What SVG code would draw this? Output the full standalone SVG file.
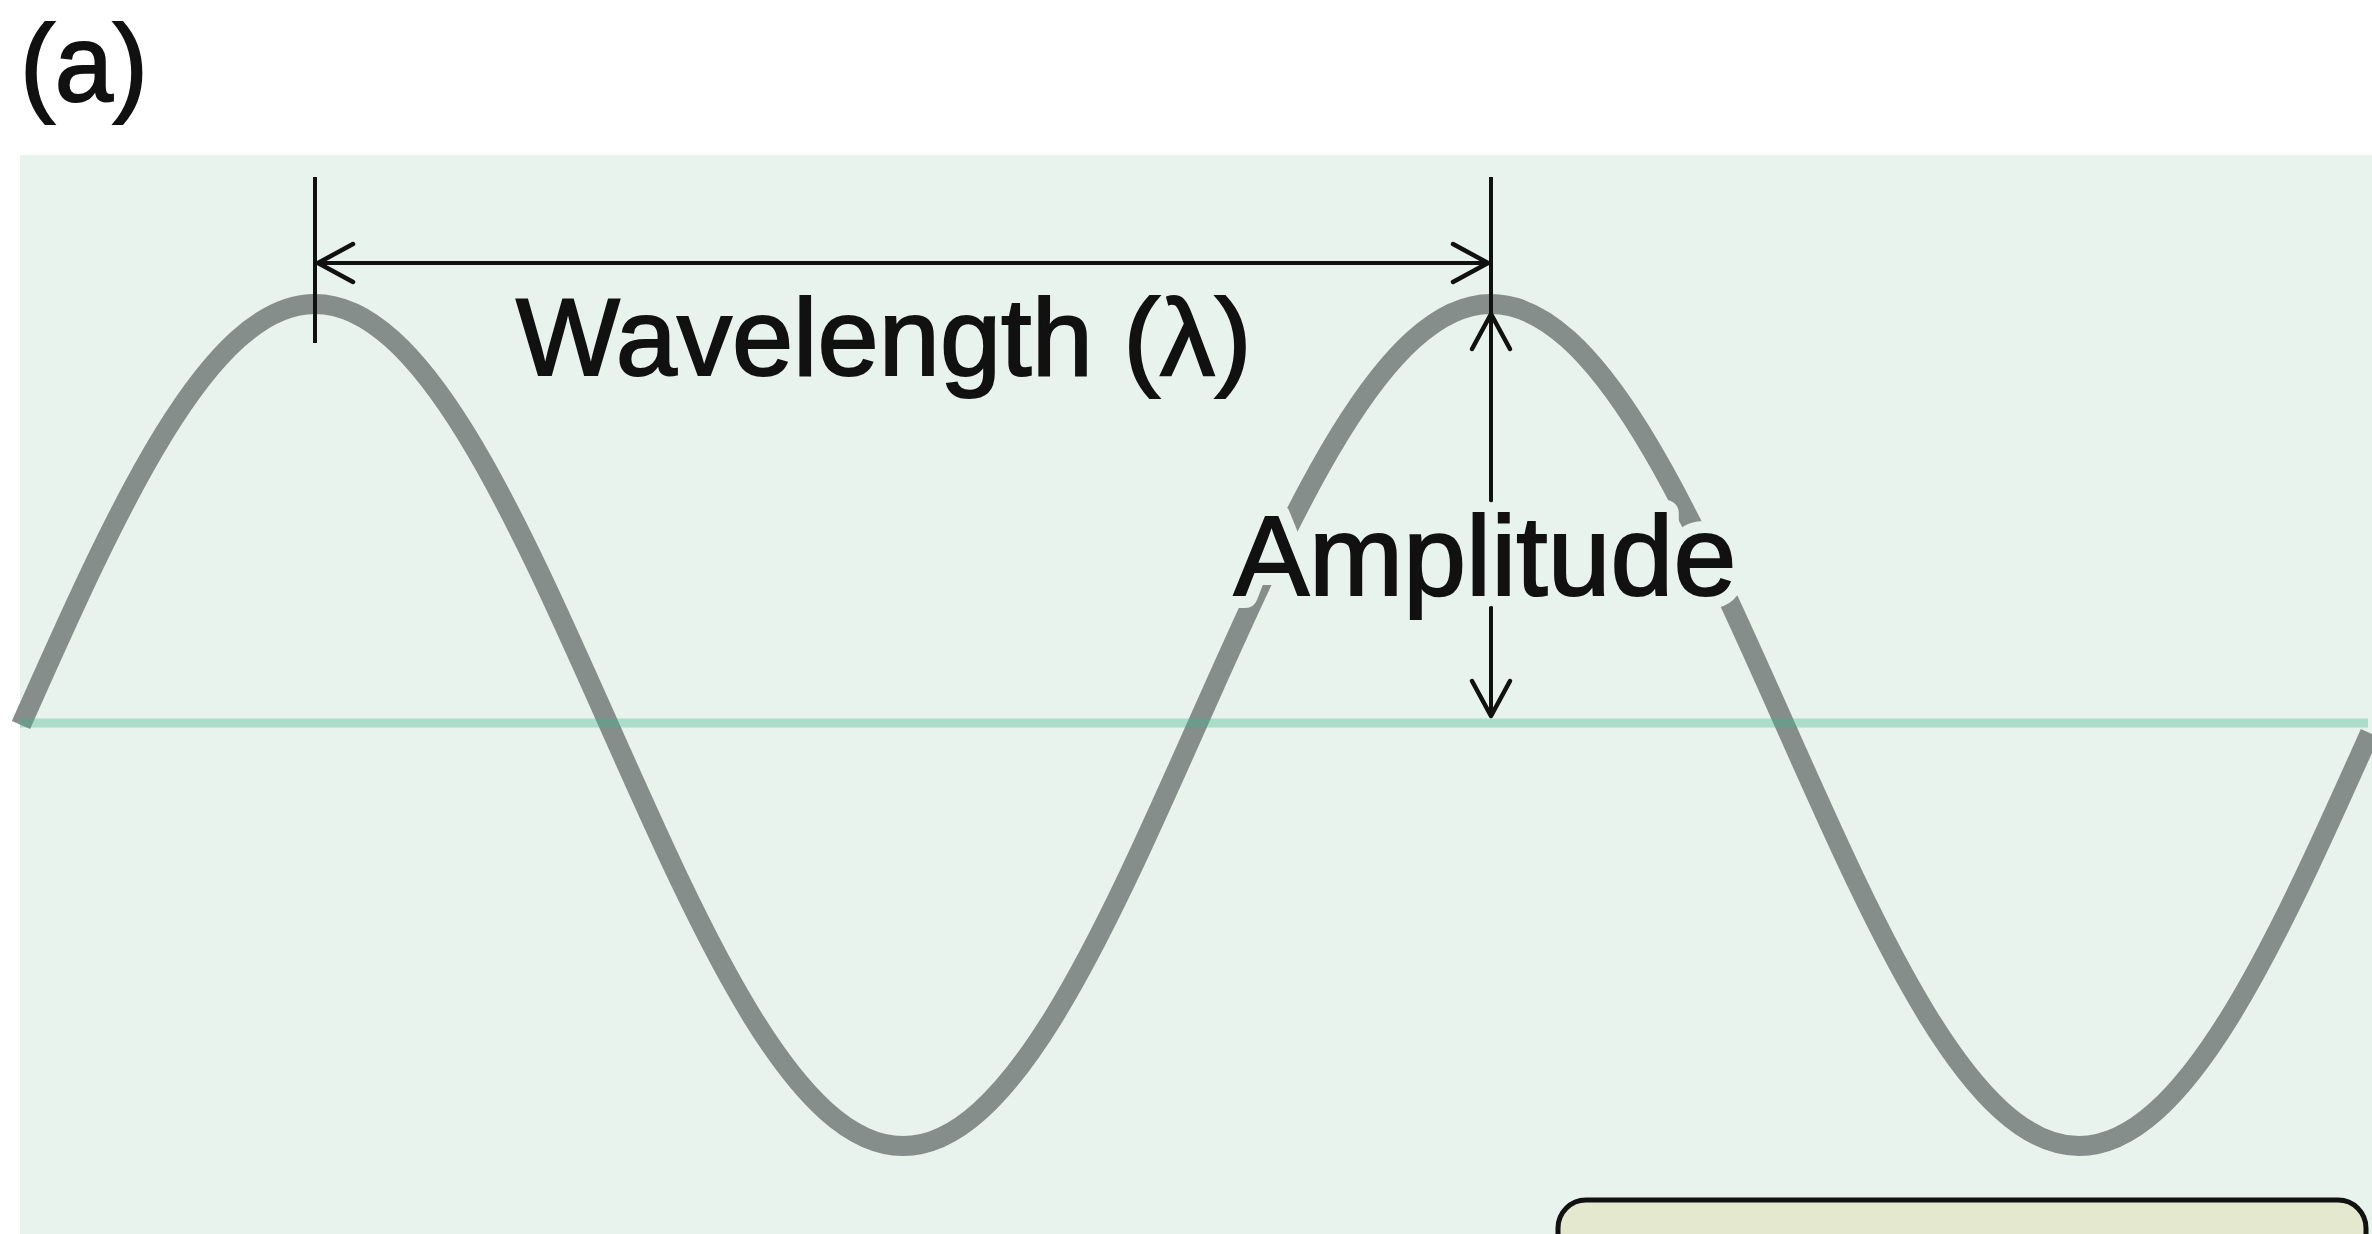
<svg xmlns="http://www.w3.org/2000/svg" width="2372" height="1234" viewBox="0 0 2372 1234">
  <style>
    .lbl { font-family: "Liberation Sans", Arial, Helvetica, sans-serif; fill: #111; stroke: #111; stroke-width: 2; }
    .dim { stroke: #111; stroke-width: 4; fill: none; }
    .halo { font-family: "Liberation Sans", Arial, Helvetica, sans-serif; fill: #e9f3ee; stroke: #e9f3ee; stroke-width: 26; stroke-linejoin: round; }
  </style>
  <defs>
    <marker id="chev" markerUnits="userSpaceOnUse" viewBox="-42 -26 46 52" refX="0" refY="0" markerWidth="46" markerHeight="52" orient="auto-start-reverse">
      <path d="M-36,-19 L-1,0 L-36,19" fill="none" stroke="#111" stroke-width="4.5" stroke-linejoin="round" stroke-linecap="round"/>
    </marker>
  </defs>

  <rect width="2372" height="1234" fill="#ffffff"/>

  <g id="panel">
    <rect x="20" y="155" width="2352" height="1079" fill="#e9f3ee"/>
  </g>

  <g id="label-a">
    <text class="lbl" x="20" y="101" font-size="110" textLength="128" lengthAdjust="spacingAndGlyphs">(a)</text>
  </g>

  <g id="wave">
    <path d="M21,725 C116.9,509.3 208.6,304 315,304 S513.1,509.3 609,725 S796.6,1146 903,1146 S1101.1,940.7 1197,725 S1384.6,304 1491,304 S1689.1,509.3 1785,725 S1972.6,1146 2079,1146 S2277.1,940.7 2370,733" fill="none" stroke="#868e8b" stroke-width="20"/>
  </g>

  <g id="baseline">
    <line x1="20" y1="723" x2="2368" y2="723" stroke="#3fb58a" stroke-opacity="0.36" stroke-width="9"/>
  </g>

  <g id="connectors">
    <line class="dim" x1="315" y1="177" x2="315" y2="343"/>
    <line class="dim" x1="1491" y1="177" x2="1491" y2="313"/>
    <line class="dim" x1="317" y1="263" x2="1489" y2="263" marker-start="url(#chev)" marker-end="url(#chev)"/>
    <line class="dim" x1="1491" y1="313" x2="1491" y2="717" marker-start="url(#chev)" marker-end="url(#chev)"/>
  </g>

  <g id="wavelength-label">
    <text class="lbl" x="516" y="375" font-size="110">Wavelength (λ)</text>
  </g>

  <g id="amplitude-label">
    <text class="halo" x="1485" y="595" font-size="113" text-anchor="middle">Amplitude</text>
    <text class="lbl" x="1485" y="595" font-size="113" text-anchor="middle">Amplitude</text>
  </g>

  <g id="box">
    <rect x="1558" y="1200" width="808" height="90" rx="28" ry="28" fill="#e4e8cf" stroke="#111" stroke-width="5"/>
  </g>
</svg>
